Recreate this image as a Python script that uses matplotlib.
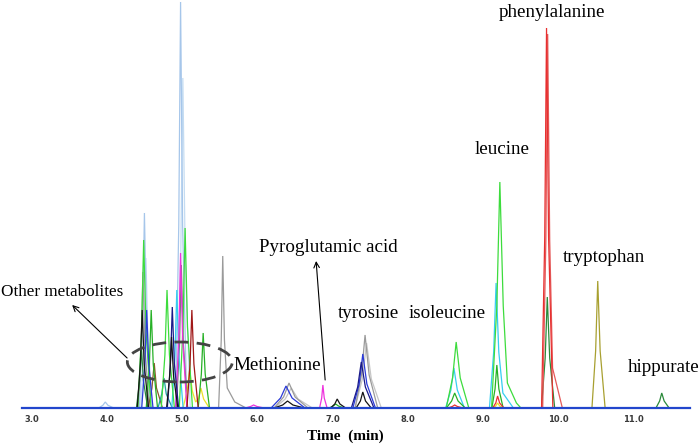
import matplotlib
matplotlib.use("Agg")
import matplotlib.pyplot as plt
from matplotlib.patches import Ellipse

# ---------------- data (time in min, intensity in arbitrary units) ----------------
tick_values = [3.0, 4.0, 5.0, 6.0, 7.0, 8.0, 9.0, 10.0, 11.0]
tick_labels = ["3.0", "4.0", "5.0", "6.0", "7.0", "8.0", "9.0", "10.0", "11.0"]

baseline_t = [2.87, 11.75]
baseline_y = [0, 0]

lightblue_a_t = [3.892, 3.948, 3.98, 4.016, 4.092, 4.434, 4.476, 4.50, 4.527, 4.584,
                 4.914, 4.956, 4.98, 5.007, 5.064]
lightblue_a_y = [0, 2.7, 6, 2.7, 0, 0, 88, 195, 88, 0, 0, 183, 406, 183, 0]

lightblue_b_t = [4.454, 4.496, 4.52, 4.547, 4.604, 4.933, 4.982, 5.01, 5.042, 5.108]
lightblue_b_y = [0, 68, 150, 68, 0, 0, 149, 330, 149, 0]

green_t = [4.413, 4.462, 4.49, 4.522, 4.588, 4.723, 4.772, 4.80, 4.832, 4.898,
           4.963, 5.012, 5.04, 5.072, 5.138, 8.508, 8.592, 8.64, 8.694, 8.808,
           9.11, 9.18, 9.22, 9.265, 9.32, 9.44, 9.50]
green_y = [0, 76, 168, 76, 0, 0, 53, 118, 53, 0, 0, 81, 180, 81, 0, 0, 30, 66, 30, 0,
           0, 102, 226, 102, 25, 5, 0]

midgreen_t = [4.524, 4.566, 4.59, 4.617, 4.674, 5.214, 5.256, 5.28, 5.307, 5.364,
              6.952, 7.008, 7.04, 7.076, 7.152, 8.51, 8.58, 8.62, 8.665, 8.76,
              9.114, 9.156, 9.18, 9.207, 9.264]
midgreen_y = [0, 44, 98, 44, 0, 0, 34, 75, 34, 0, 0, 2, 4, 2, 0, 0, 7, 15, 7, 0,
              0, 19, 43, 19, 0]

darkgreen_t = [4.394, 4.436, 4.46, 4.487, 4.544, 9.773, 9.822, 9.85, 9.882, 9.948,
               11.293, 11.342, 11.37, 11.402, 11.468]
darkgreen_y = [0, 27, 60, 27, 0, 0, 50, 111, 50, 0, 0, 7, 15, 7, 0]

gray_t = [4.414, 4.456, 4.48, 4.507, 4.564, 5.485, 5.52, 5.54, 5.5625, 5.60, 5.70, 5.85,
          6.222, 6.348, 6.42, 6.501, 6.672, 7.298, 7.382, 7.43, 7.484, 7.598]
gray_y = [0, 61, 136, 61, 0, 0, 68, 152, 68, 20, 6, 0, 0, 11, 25, 11, 0, 0, 33, 73, 33, 0]

lightgray_t = [6.23, 6.37, 6.45, 6.54, 6.73, 7.296, 7.394, 7.45, 7.513, 7.646]
lightgray_y = [0, 9, 20, 9, 0, 0, 29, 65, 29, 0]

darkgray_t = [4.924, 4.966, 4.99, 5.017, 5.074]
darkgray_y = [0, 64, 143, 64, 0]

magenta_t = [4.914, 4.956, 4.98, 5.007, 5.064, 5.84, 5.91, 5.95, 5.995, 6.09,
             6.826, 6.854, 6.87, 6.888, 6.926]
magenta_y = [0, 70, 155, 70, 0, 0, 1.5, 3, 1.5, 0, 0, 10, 23, 10, 0]

cyan_t = [4.864, 4.906, 4.93, 4.957, 5.014, 8.50, 8.57, 8.61, 8.655, 8.75,
          9.082, 9.138, 9.17, 9.206, 9.26, 9.40]
cyan_y = [0, 53, 118, 53, 0, 0, 18, 40, 18, 0, 0, 56, 125, 56, 15, 0]

darkred_t = [5.064, 5.106, 5.13, 5.157, 5.214]
darkred_y = [0, 44, 98, 44, 0]

red_t = [8.532, 8.588, 8.62, 8.656, 8.732, 9.124, 9.166, 9.19, 9.217, 9.274,
         9.774, 9.816, 9.84, 9.867, 9.924]
red_y = [0, 1.5, 3, 1.5, 0, 0, 5, 12, 5, 0, 0, 171, 380, 171, 0]

red2_t = [9.789, 9.831, 9.855, 9.882, 9.92, 10.05]
red2_y = [0, 168, 374, 168, 40, 0]

blue_t = [4.464, 4.506, 4.53, 4.557, 4.614, 6.182, 6.308, 6.38, 6.461, 6.632,
          7.268, 7.352, 7.40, 7.454, 7.568]
blue_y = [0, 44, 98, 44, 0, 0, 10, 22, 10, 0, 0, 24, 54, 24, 0]

navy_t = [4.804, 4.846, 4.87, 4.897, 4.954, 7.248, 7.332, 7.38, 7.434, 7.548]
navy_y = [0, 45, 101, 45, 0, 0, 21, 46, 21, 0]

black_t = [4.404, 4.446, 4.47, 4.497, 4.554, 4.794, 4.836, 4.86, 4.887, 4.944,
           6.224, 6.336, 6.40, 6.472, 6.624, 6.972, 7.028, 7.06, 7.096, 7.172,
           7.312, 7.368, 7.40, 7.436, 7.512]
black_y = [0, 44, 98, 44, 0, 0, 32, 71, 32, 0, 0, 3, 7, 3, 0, 0, 4, 9, 4, 0,
           0, 7, 16, 7, 0]

yellow_t = [5.012, 5.068, 5.10, 5.136, 5.18, 5.218, 5.25, 5.286, 5.362,
            9.124, 9.166, 9.19, 9.217, 9.274]
yellow_y = [0, 17, 38, 17, 6, 9, 20, 9, 0, 0, 2, 5, 2, 0]

olive_t = [10.443, 10.492, 10.52, 10.552, 10.618]
olive_y = [0, 57, 127, 57, 0]

brown_t = [4.55, 4.60, 4.63, 4.66, 4.74]
brown_y = [0, 20, 45, 20, 0]

teal_t = [4.68, 4.73, 4.76, 4.79, 4.87]
teal_y = [0, 14, 30, 14, 0]

traces = [
    (lightgray_t, lightgray_y, "#c6c6c6"),
    (lightblue_b_t, lightblue_b_y, "#c4dcf2"),
    (lightblue_a_t, lightblue_a_y, "#a6c6ea"),
    (gray_t, gray_y, "#9a9a9a"),
    (darkgray_t, darkgray_y, "#7a7a7a"),
    (yellow_t, yellow_y, "#eee02a"),
    (brown_t, brown_y, "#8b5a2b"),
    (teal_t, teal_y, "#20a0a0"),
    (cyan_t, cyan_y, "#36cdf2"),
    (midgreen_t, midgreen_y, "#26b026"),
    (green_t, green_y, "#3ddc3d"),
    (darkgreen_t, darkgreen_y, "#2a8a3a"),
    (magenta_t, magenta_y, "#ee33dd"),
    (darkred_t, darkred_y, "#a01818"),
    (red2_t, red2_y, "#e45a5a"),
    (red_t, red_y, "#e83030"),
    (olive_t, olive_y, "#a8a030"),
    (blue_t, blue_y, "#2a3ad8"),
    (navy_t, navy_y, "#1a1a8a"),
    (black_t, black_y, "#151515"),
]

# ---------------- figure ----------------
fig = plt.figure(figsize=(7.0, 4.44), dpi=100)
ax = fig.add_axes([0, 36 / 444, 1, 408 / 444])
ax.set_xlim(2.582, 11.878)
ax.set_ylim(0, 408)

for t, y, c in traces:
    ax.plot(t, y, color=c, lw=0.9, solid_joinstyle="miter", clip_on=False)

ax.plot(baseline_t, baseline_y, color="#2246cc", lw=1.6, clip_on=False, zorder=5)

for s in ax.spines.values():
    s.set_visible(False)
ax.set_yticks([])
ax.set_xticks(tick_values)
ax.set_xticklabels(tick_labels, fontsize=6, fontweight="bold", color="#3a3a3a",
                   family="DejaVu Sans")
ax.tick_params(axis="x", length=0, pad=5)

serif = "Liberation Serif"
fs = 13.7
ax.text(9.91, 395, "phenylalanine", family=serif, fontsize=fs, ha="center", va="center")
ax.text(9.25, 258, "leucine", family=serif, fontsize=fs, ha="center", va="center")
ax.text(10.60, 151, "tryptophan", family=serif, fontsize=fs, ha="center", va="center")
ax.text(11.875, 41, "hippurate", family=serif, fontsize=fs, ha="right", va="center")
ax.text(7.48, 95, "tyrosine", family=serif, fontsize=fs, ha="center", va="center")
ax.text(8.52, 95, "isoleucine", family=serif, fontsize=fs, ha="center", va="center")
ax.text(6.94, 161, "Pyroglutamic acid", family=serif, fontsize=fs, ha="center", va="center")
ax.text(6.27, 43, "Methionine", family=serif, fontsize=fs, ha="center", va="center")
ax.text(2.595, 116, "Other metabolites", family=serif, fontsize=12.3, ha="left", va="center")

arrow_kw = dict(arrowstyle="->", color="black", lw=0.8, shrinkA=0, shrinkB=0)
ax.annotate("", xy=(3.54, 103), xytext=(4.27, 50), arrowprops=arrow_kw)
ax.annotate("", xy=(6.78, 147), xytext=(6.90, 28), arrowprops=arrow_kw)

ell = Ellipse((4.97, 46), width=1.394, height=40, fill=False, edgecolor="#444444",
              lw=2.0, linestyle=(0, (5, 3)), zorder=6)
ax.add_patch(ell)

fig.text(345 / 700, 1 - 436 / 444, "Time  (min)", family=serif, fontsize=11,
         fontweight="bold", ha="center", va="center")

fig.savefig("out.png", dpi=100)
